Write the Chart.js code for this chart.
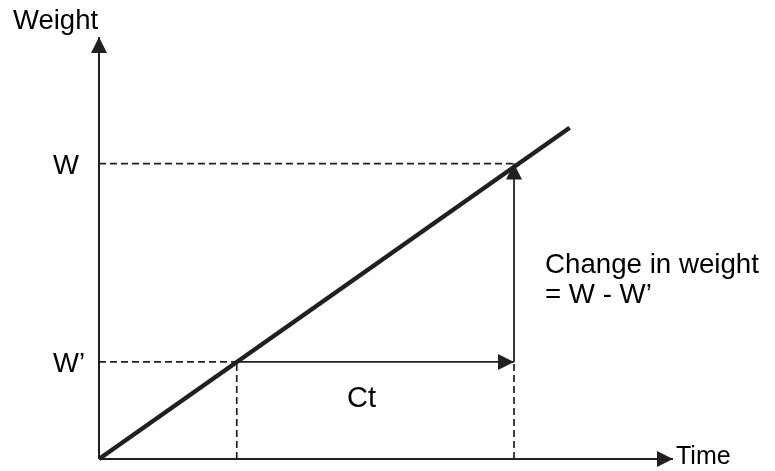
<!DOCTYPE html>
<html>
<head>
<meta charset="utf-8">
<script src="https://cdn.jsdelivr.net/npm/chart.js@4"></script>
<style>
  body { margin: 0; background: #fff; }
  #wrap { width: 775px; height: 471px; }
</style>
</head>
<body>
<div id="wrap"><canvas id="weightChart" width="775" height="471"></canvas></div>
<script>
// Diagram values (arbitrary units along each axis)
const axisRange = [0, 10];
const weightLabels = ['W\u2019', 'W'];
const weightValues = [2.3, 7.0];
const timeValues = [2.4, 7.23];
const growthX = [0, 8.2];
const growthY = [0, 7.85];
const axisTitles = ['Weight', 'Time'];
const noteLines = ['Change in weight', '= W - W\u2019'];
const intervalLabel = 'Ct';

const ink = '#231f20';
const font = 'Liberation Sans, Arial, sans-serif';

function seg(x1, y1, x2, y2, extra) {
    return Object.assign({
        data: [{ x: x1, y: y1 }, { x: x2, y: y2 }],
        showLine: true,
        borderColor: ink,
        backgroundColor: ink,
        borderWidth: 1.8,
        pointRadius: 0,
        clip: false
    }, extra || {});
}

const dash = { borderDash: [7, 4], borderWidth: 1.7 };
const [wLow, wHigh] = weightValues;
const [tLow, tHigh] = timeValues;

const datasets = [
    // axes
    seg(0, 0, 0, axisRange[1], { arrowEnd: true, borderWidth: 2 }),
    seg(0, 0, axisRange[1], 0, { arrowEnd: true, borderWidth: 2 }),
    // dashed guides
    seg(0, wHigh, tHigh, wHigh, dash),
    seg(0, wLow, tLow, wLow, dash),
    seg(tLow, 0, tLow, wLow, dash),
    seg(tHigh, 0, tHigh, wLow, dash),
    // interval arrows
    seg(tLow, wLow, tHigh, wLow, { arrowEnd: true }),
    seg(tHigh, wLow, tHigh, wHigh, { arrowEnd: true }),
    // growth line
    seg(growthX[0], growthY[0], growthX[1], growthY[1], { borderWidth: 4.5 })
];

// Draw arrowheads at the end of flagged segments
const arrowPlugin = {
    id: 'arrowPlugin',
    afterDatasetsDraw(chart) {
        const ctx = chart.ctx;
        chart.data.datasets.forEach((ds, i) => {
            if (!ds.arrowEnd) return;
            const pts = chart.getDatasetMeta(i).data;
            const a = pts[pts.length - 2];
            const b = pts[pts.length - 1];
            const ang = Math.atan2(b.y - a.y, b.x - a.x);
            const len = 16, half = 8;
            ctx.save();
            ctx.translate(b.x, b.y);
            ctx.rotate(ang);
            ctx.fillStyle = ink;
            ctx.beginPath();
            ctx.moveTo(0, 0);
            ctx.lineTo(-len, -half);
            ctx.lineTo(-len, half);
            ctx.closePath();
            ctx.fill();
            ctx.restore();
        });
    }
};

// Text labels
const labelPlugin = {
    id: 'labelPlugin',
    afterDraw(chart) {
        const ctx = chart.ctx;
        const xs = chart.scales.x;
        const ys = chart.scales.y;
        ctx.save();
        ctx.fillStyle = '#000';
        ctx.textBaseline = 'alphabetic';
        ctx.textAlign = 'left';

        ctx.font = '27.5px ' + font;
        ctx.fillText(axisTitles[0], 13, 29);
        weightLabels.forEach((lbl, i) => {
            ctx.fillText(lbl, 53, ys.getPixelForValue(weightValues[i]) + 10);
        });
        ctx.font = '27.7px ' + font;
        ctx.fillText(noteLines[0], 545, 273);
        ctx.fillText(noteLines[1], 545, 303);

        ctx.font = '29px ' + font;
        ctx.fillText(intervalLabel, 347, 407);

        ctx.font = '25px ' + font;
        ctx.fillText(axisTitles[1], xs.getPixelForValue(axisRange[1]) + 3, ys.getPixelForValue(0) + 5);
        ctx.restore();
    }
};

new Chart(document.getElementById('weightChart'), {
    type: 'scatter',
    data: { datasets: datasets },
    options: {
        responsive: false,
        animation: false,
        events: [],
        layout: { padding: { left: 99, right: 102, top: 37, bottom: 12 } },
        plugins: { legend: { display: false }, tooltip: { enabled: false } },
        scales: {
            x: { type: 'linear', min: axisRange[0], max: axisRange[1], display: false },
            y: { type: 'linear', min: axisRange[0], max: axisRange[1], display: false }
        }
    },
    plugins: [arrowPlugin, labelPlugin]
});
</script>
</body>
</html>
